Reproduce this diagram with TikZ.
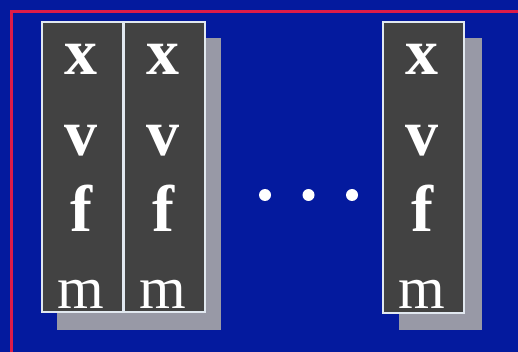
\documentclass[tikz,border=0pt]{standalone}
\usepackage{fontspec}
\setmainfont{Liberation Serif}
\definecolor{bgblue}{RGB}{4,26,158}
\definecolor{framered}{RGB}{222,28,72}
\definecolor{boxgray}{RGB}{66,66,66}
\definecolor{shadowgray}{RGB}{152,153,166}
\definecolor{edgewhite}{RGB}{225,232,240}
\begin{document}
\begin{tikzpicture}[x=1pt,y=-1pt,
  colbox/.style={draw=edgewhite,line width=1.2pt,fill=boxgray,inner sep=0pt},
  shadowbox/.style={fill=shadowgray,inner sep=0pt},
  boldletter/.style={text=white,anchor=base,inner sep=0pt,font=\fontsize{66}{66}\selectfont\bfseries},
  regletter/.style={text=white,anchor=base,inner sep=0pt,font=\fontsize{60}{60}\selectfont},
  dotmark/.style={circle,fill=white,inner sep=0pt,minimum size=12pt}]
\useasboundingbox (0,0) rectangle (518,352);
\fill[bgblue] (0,0) rectangle (518,352);
\draw[framered,line width=3pt] (11.3,352) -- (11.3,11.3) -- (518,11.3);
% shadows
\fill[shadowgray] (57,38) rectangle (221,330);
\fill[shadowgray] (399,38) rectangle (482,330);
% boxes
\node[colbox,minimum width=81pt,minimum height=290pt] (b1) at (82.5,167) {};
\node[colbox,minimum width=81pt,minimum height=290pt] (b2) at (164.5,167) {};
\node[colbox,minimum width=81pt,minimum height=291pt] (b3) at (423.5,167.5) {};
% letters
\foreach \c/\n in {81/a,163/b,422/c}{
  \node[boldletter] (x\n) at (\c,75) {x};
  \node[boldletter] (v\n) at (\c,156) {v};
  \node[boldletter] (f\n) at (\c,232) {f};
  \node[regletter] (m\n) at (\c,308) {m};
}
% dots
\node[dotmark] (d1) at (265,195) {};
\node[dotmark] (d2) at (308.5,195) {};
\node[dotmark] (d3) at (352,195) {};
\end{tikzpicture}
\end{document}
